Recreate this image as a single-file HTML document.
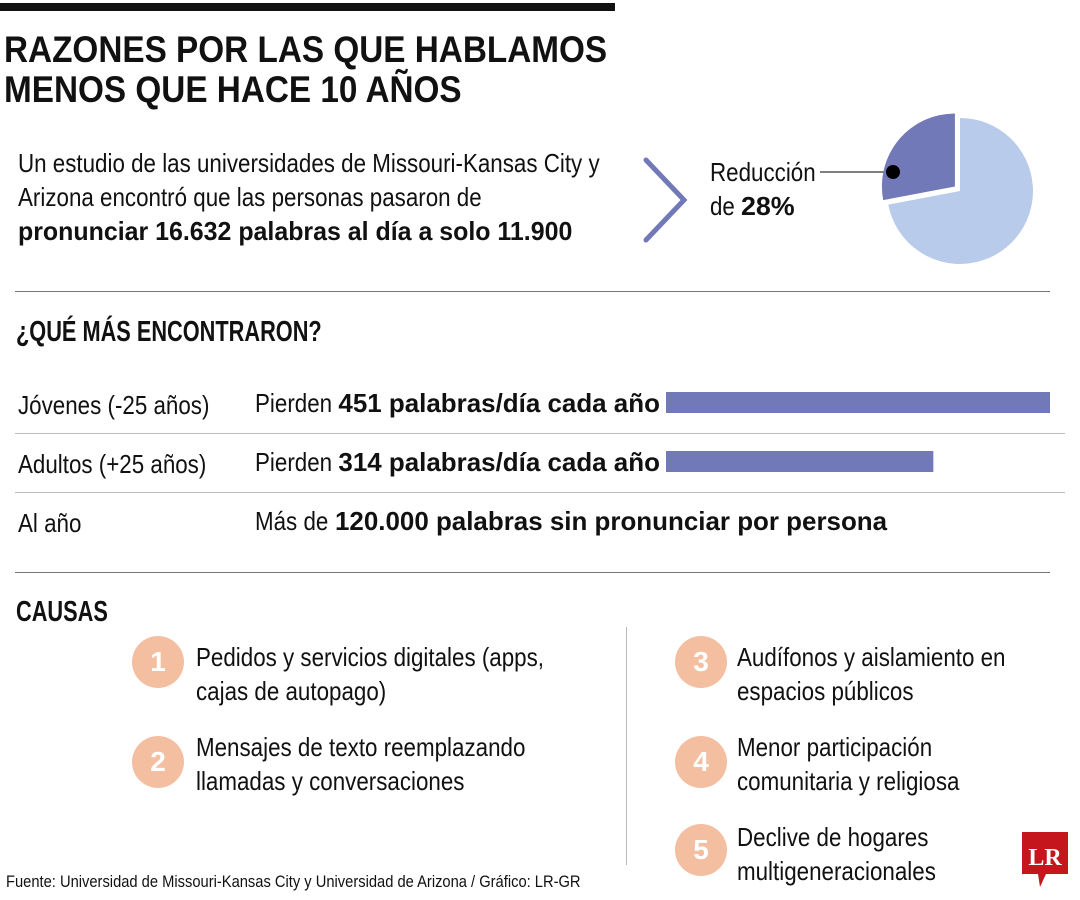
<!DOCTYPE html>
<html><head><meta charset="utf-8"><style>
body{margin:0;width:1080px;height:900px;background:#fff;position:relative;overflow:hidden;font-family:"Liberation Sans",sans-serif;color:#111}
.a{position:absolute;white-space:nowrap;transform-origin:left top}
.t{font-size:26px;line-height:34px;transform:scaleX(.86)}
.h{font-size:29px;font-weight:bold;transform:scaleX(.75)}
.r{position:absolute;height:1px;background:#777}
.c{position:absolute;width:52px;height:52px;border-radius:50%;background:#f4bfa0;color:#fff;font-size:28px;font-weight:bold;text-align:center;line-height:52px}
b{font-weight:bold;display:inline-block;transform:scaleX(1.16);transform-origin:left}
</style></head><body>
<div class="a" style="left:0;top:3px;width:615px;height:8px;background:#111"></div>
<div class="a" style="left:4px;top:30px;font-size:37px;line-height:40px;font-weight:bold;transform:scaleX(.9)">RAZONES POR LAS QUE HABLAMOS<br>MENOS QUE HACE 10 AÑOS</div>
<div class="a t" style="left:18px;top:146px">Un estudio de las universidades de Missouri-Kansas City y<br>Arizona encontró que las personas pasaron de<br><b style="transform:scaleX(1.115)">pronunciar 16.632 palabras al día a solo 11.900</b></div>
<svg class="a" style="left:0;top:0" width="1080" height="300">
<polyline points="646,160 684,200 646,240" fill="none" stroke="#7279b8" stroke-width="5" stroke-linecap="round"/>
<line x1="820" y1="172" x2="892" y2="172" stroke="#555" stroke-width="1.5"/>
<g id="pie"></g>
<circle cx="893" cy="172" r="7" fill="#000"/>
</svg>
<div class="a t" style="left:710px;top:155px">Reducción<br>de <b style="transform:scaleX(1.2)">28%</b></div>
<div class="r" style="left:15px;top:291px;width:1035px"></div>
<div class="a h" style="left:16px;top:316px">¿QUÉ MÁS ENCONTRARON?</div>
<div class="a t" style="left:18px;top:388px">Jóvenes (-25 años)</div>
<div class="a t" style="left:255px;top:386px">Pierden <b>451 palabras/día cada año</b></div>
<div class="r" style="left:15px;top:433px;width:1050px;background:#bbb"></div>
<div class="a t" style="left:18px;top:447px">Adultos (+25 años)</div>
<div class="a t" style="left:255px;top:445px">Pierden <b>314 palabras/día cada año</b></div>
<div class="r" style="left:15px;top:492px;width:1050px;background:#bbb"></div>
<div class="a t" style="left:18px;top:506px">Al año</div>
<div class="a t" style="left:255px;top:504px">Más de <b>120.000 palabras sin pronunciar por persona</b></div>
<svg class="a" style="left:0;top:0" width="1080" height="480" id="bars"></svg>
<div class="r" style="left:15px;top:572px;width:1035px"></div>
<div class="a h" style="left:16px;top:596px">CAUSAS</div>
<div class="r" style="left:626px;top:627px;width:1px;height:238px;background:#bbb"></div>
<div class="c" style="left:132px;top:636px">1</div>
<div class="a t" style="left:196px;top:640px">Pedidos y servicios digitales (apps,<br>cajas de autopago)</div>
<div class="c" style="left:132px;top:736px">2</div>
<div class="a t" style="left:196px;top:730px">Mensajes de texto reemplazando<br>llamadas y conversaciones</div>
<div class="c" style="left:675px;top:636px">3</div>
<div class="a t" style="left:737px;top:640px">Audífonos y aislamiento en<br>espacios públicos</div>
<div class="c" style="left:675px;top:736px">4</div>
<div class="a t" style="left:737px;top:730px">Menor participación<br>comunitaria y religiosa</div>
<div class="c" style="left:675px;top:824px">5</div>
<div class="a t" style="left:737px;top:820px">Declive de hogares<br>multigeneracionales</div>
<div class="a" style="left:6px;top:872px;font-size:17px;transform:scaleX(.865)">Fuente: Universidad de Missouri-Kansas City y Universidad de Arizona / Gráfico: LR-GR</div>
<svg class="a" style="left:1020px;top:830px" width="50" height="60">
<path d="M2,2H48V44H26L20,57L18,44H2Z" fill="#c4161c"/>
<text x="25" y="35" text-anchor="middle" fill="#fff" font-family="Liberation Serif,serif" font-weight="bold" font-size="24">LR</text>
</svg>
<script>
const pieShare=[28,72];
const barCats=["Jóvenes","Adultos"];
const barValues=[451,314];
const ns="http://www.w3.org/2000/svg";
const g=document.getElementById('pie');
const cx=960,cy=191,R=73;
const cols=["#7279b8","#b9cbea"];
const s=pieShare[0]/100*360;
function pt(a,r,ox,oy){return [ox+r*Math.cos(a*Math.PI/180),oy+r*Math.sin(a*Math.PI/180)];}
function arc(a0,a1,ox,oy,col,name){const p0=pt(a0,R,ox,oy),p1=pt(a1,R,ox,oy);const large=(a1-a0)>180?1:0;
const p=document.createElementNS(ns,'path');p.setAttribute('d',`M${ox},${oy}L${p0[0]},${p0[1]}A${R},${R} 0 ${large} 1 ${p1[0]},${p1[1]}Z`);p.setAttribute('fill',col);


g.appendChild(p);}
const mid=-90-s/2;const off=pt(mid,4,0,0);
arc(-90-s,-90,cx-2+off[0],cy-2+off[1],cols[0],'pie-slice-reduction');
arc(-90,270-s,cx,cy,cols[1],'pie-slice-remaining');
const bs=document.getElementById('bars');
const x0=666,xs=v=>v*384/451;
const ys=[392,451];
barValues.forEach((v,i)=>{const r=document.createElementNS(ns,'rect');r.setAttribute('x',x0);r.setAttribute('y',ys[i]);r.setAttribute('width',xs(v));r.setAttribute('height',21);r.setAttribute('fill','#7279b8');


bs.appendChild(r);});
</script>
</body></html>
